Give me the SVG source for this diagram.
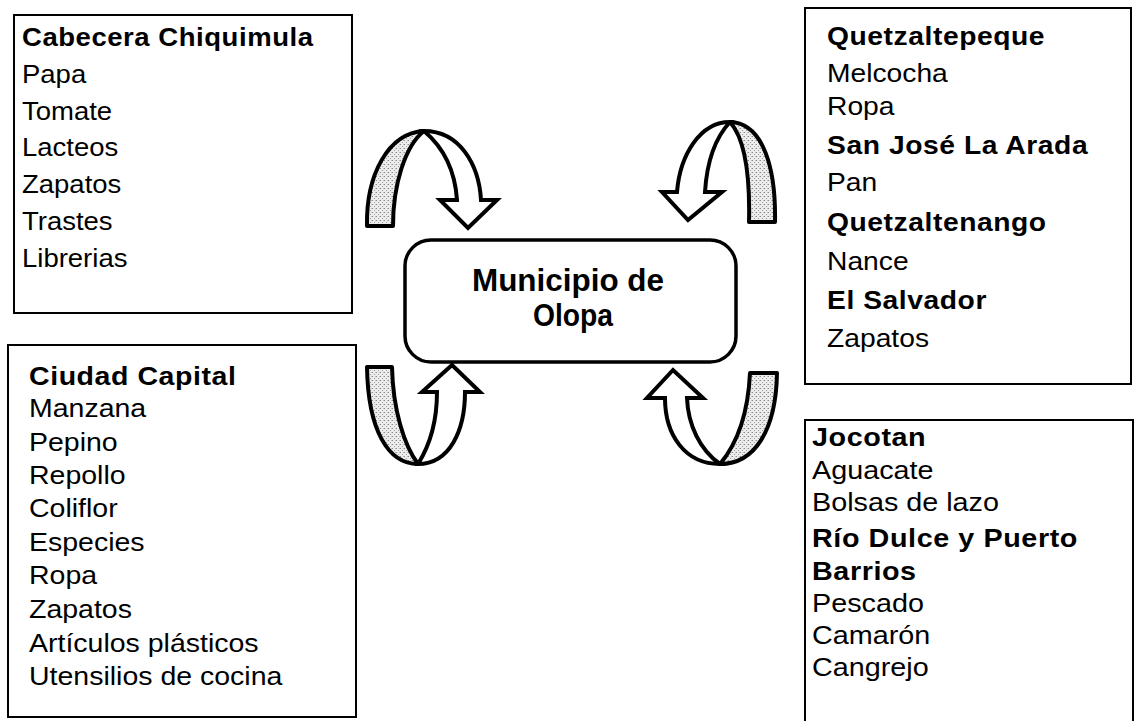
<svg xmlns="http://www.w3.org/2000/svg" width="1134" height="721" viewBox="0 0 1134 721">
<style>
  .box { fill: #ffffff; stroke: #000000; stroke-width: 2; }
  .center { fill: #ffffff; stroke: #000000; stroke-width: 3.5; }
  text { font-family: "Liberation Sans", Arial, sans-serif; font-size: 25px; fill: #000000; }
  .b { font-weight: bold; letter-spacing: 0.5px; }
  .ct { font-size: 31px; font-weight: bold; text-anchor: middle; }
  .leg { fill: url(#stip); stroke: #000000; stroke-width: 4; stroke-linejoin: round; }
  .band { fill: #ffffff; stroke: #000000; stroke-width: 4; stroke-linejoin: miter; }
</style>
<defs>
  <pattern id="stip" width="4" height="4" patternUnits="userSpaceOnUse">
    <rect width="4" height="4" fill="#ececec"/>
    <rect x="0" y="0" width="1" height="1" fill="#8a8a8a"/>
    <rect x="2" y="2" width="1" height="1" fill="#a0a0a0"/>
    <rect x="3" y="0" width="1" height="1" fill="#c0c0c0"/>
  </pattern>
</defs>
<rect width="1134" height="721" fill="#ffffff"/>

<g id="node-cabecera">
  <rect class="box" x="14" y="15" width="338" height="298"/>
  <g transform="translate(22,0) scale(1.1,1)">
    <text class="b" x="0" y="46">Cabecera Chiquimula</text>
    <text x="0" y="83">Papa</text>
    <text x="0" y="120">Tomate</text>
    <text x="0" y="156.5">Lacteos</text>
    <text x="0" y="193">Zapatos</text>
    <text x="0" y="230">Trastes</text>
    <text x="0" y="267">Librerias</text>
  </g>
</g>

<g id="node-quetzaltepeque">
  <rect class="box" x="805" y="8" width="326" height="376"/>
  <g transform="translate(827,0) scale(1.13,1)">
    <text class="b" x="0" y="45">Quetzaltepeque</text>
    <text x="0" y="82">Melcocha</text>
    <text x="0" y="115">Ropa</text>
    <text class="b" x="0" y="154">San José La Arada</text>
    <text x="0" y="191">Pan</text>
    <text class="b" x="0" y="231">Quetzaltenango</text>
    <text x="0" y="270">Nance</text>
    <text class="b" x="0" y="309">El Salvador</text>
    <text x="0" y="347">Zapatos</text>
  </g>
</g>

<g id="node-capital">
  <rect class="box" x="8" y="345" width="348" height="372"/>
  <g transform="translate(29,0) scale(1.14,1)">
    <text class="b" x="0" y="385">Ciudad Capital</text>
    <text x="0" y="417">Manzana</text>
    <text x="0" y="451">Pepino</text>
    <text x="0" y="484">Repollo</text>
    <text x="0" y="517">Coliflor</text>
    <text x="0" y="551">Especies</text>
    <text x="0" y="584">Ropa</text>
    <text x="0" y="618">Zapatos</text>
    <text x="0" y="652">Artículos plásticos</text>
    <text x="0" y="685">Utensilios de cocina</text>
  </g>
</g>

<g id="node-jocotan">
  <rect class="box" x="805" y="420" width="328" height="320"/>
  <g transform="translate(812,0) scale(1.15,1)">
    <text class="b" x="0" y="446">Jocotan</text>
    <text x="0" y="479">Aguacate</text>
    <text x="0" y="511">Bolsas de lazo</text>
    <text class="b" x="0" y="547">Río Dulce y Puerto</text>
    <text class="b" x="0" y="580">Barrios</text>
    <text x="0" y="612">Pescado</text>
    <text x="0" y="644">Camarón</text>
    <text x="0" y="676">Cangrejo</text>
  </g>
</g>

<g id="node-olopa">
  <rect class="center" x="405" y="240" width="331" height="122" rx="26" ry="26"/>
  <text class="ct" x="568" y="291" textLength="192" lengthAdjust="spacingAndGlyphs">Municipio de</text>
  <text class="ct" x="573" y="326" textLength="80" lengthAdjust="spacingAndGlyphs">Olopa</text>
</g>

<g id="connectors">
  <!-- top-left: from Cabecera Chiquimula into Olopa -->
  <g id="arrow-tl">
    <path class="leg" d="M 367,226 C 366,175 388,133 424,131 C 405,146 393,185 393,226 Z"/>
    <path class="band" d="M 424,131 C 460,131 479,165 481,200 L 497,200 L 468,228 L 440,200 L 457,200 C 455,170 443,147 424,131 Z"/>
  </g>
  <!-- top-right: from Quetzaltepeque into Olopa -->
  <g id="arrow-tr">
    <path class="leg" d="M 775,222 C 776,170 764,123 730,122 C 746,140 750,180 749,222 Z"/>
    <path class="band" d="M 730,122 C 700,122 680,155 677,192 L 662,192 L 688,220 L 722,192 L 705,192 C 707,160 715,138 730,122 Z"/>
  </g>
  <!-- bottom-left: from Ciudad Capital into Olopa -->
  <g id="arrow-bl">
    <path class="leg" d="M 367,367 L 392,367 C 393,410 404,445 418,464 C 388,464 368,430 367,367 Z"/>
    <path class="band" d="M 418,464 C 450,464 465,430 465,392 L 480,392 L 452,365 L 422,392 L 437,392 C 437,420 430,445 418,464 Z"/>
  </g>
  <!-- bottom-right: from Jocotan into Olopa -->
  <g id="arrow-br">
    <path class="leg" d="M 777,373 L 750,373 C 748,415 736,445 720,464 C 755,464 776,430 777,373 Z"/>
    <path class="band" d="M 720,464 C 685,464 665,435 665,398 L 647,398 L 673,370 L 703,398 L 687,398 C 688,425 700,450 720,464 Z"/>
  </g>
</g>
</svg>
